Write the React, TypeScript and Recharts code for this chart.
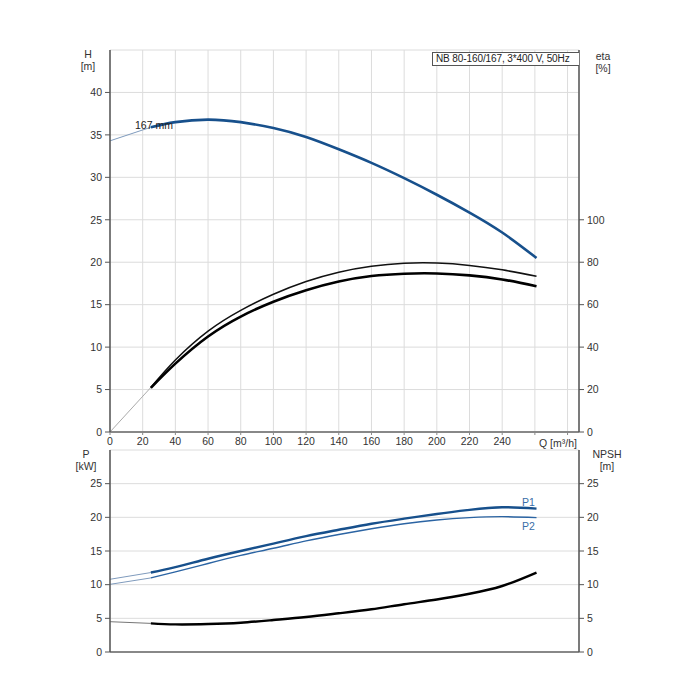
import React from 'react';
import { LineChart, Line, XAxis, YAxis, CartesianGrid } from 'recharts';

const Q = [0, 25, 40, 60, 80, 100, 120, 140, 160, 180, 200, 220, 240, 261];
const H = [34.3, 35.9, 36.5, 36.8, 36.5, 35.8, 34.75, 33.3, 31.7, 29.9, 27.95, 25.85, 23.5, 20.5];
const ETA_TOTAL = [0, 21, 33.9, 47.5, 57.3, 64.9, 70.9, 75.3, 78.1, 79.5, 79.6, 78.5, 76.4, 73.4];
const ETA_PUMP = [0, 20.8, 32.2, 45.0, 54.4, 61.4, 66.8, 70.9, 73.5, 74.6, 74.7, 73.8, 71.9, 68.7];
const P1 = [10.8, 11.8, 12.6, 13.85, 15.0, 16.1, 17.2, 18.15, 19.05, 19.8, 20.5, 21.1, 21.5, 21.3];
const P2 = [10.05, 11.0, 11.9, 13.15, 14.35, 15.4, 16.5, 17.45, 18.3, 19.05, 19.6, 19.95, 20.1, 19.95];
const NPSH = [4.5, 4.25, 4.1, 4.15, 4.35, 4.75, 5.2, 5.75, 6.35, 7.1, 7.8, 8.65, 9.8, 11.8];

const X_TICKS = [0, 20, 40, 60, 80, 100, 120, 140, 160, 180, 200, 220, 240, 260, 280];
const H_TICKS = [0, 5, 10, 15, 20, 25, 30, 35, 40];
const ETA_TICKS = [0, 20, 40, 60, 80, 100];
const P_TICKS = [0, 5, 10, 15, 20, 25];
const NPSH_TICKS = [0, 5, 10, 15, 20, 25];

const mk = (vals: number[], from: number, to: number) =>
  Q.slice(from, to + 1).map((q, i) => ({ q, v: vals[from + i] }));

const FONT = '"Liberation Sans", Arial, sans-serif';
const FS = 10.5;
const tickStyle = { fontSize: FS, fill: '#333', fontFamily: FONT };
const GRID = '#dcdcdc';
const AXIS = '#555';
const BLUE = '#17508c';
const BLUE2 = '#2b64a3';

const labelStyle: React.CSSProperties = {
  position: 'absolute',
  fontFamily: FONT,
  fontSize: FS,
  color: '#333',
  lineHeight: '12px',
  textAlign: 'center',
  whiteSpace: 'nowrap',
};

export default function App() {
  return (
    <div style={{ position: 'absolute', left: 0, top: 0, width: 700, height: 700, background: '#fff' }}>
      <div style={{ position: 'absolute', left: 0, top: 0 }}>
        <LineChart width={700} height={460} margin={{ top: 50, right: 81, bottom: 8, left: 70 }}>
          <CartesianGrid stroke={GRID} yAxisId="h" xAxisId="x" />
          <XAxis
            xAxisId="x"
            type="number"
            dataKey="q"
            domain={[0, 287]}
            ticks={X_TICKS}
            allowDataOverflow
            tickFormatter={(v: number) => (v > 240 ? '' : String(v))}
            tick={tickStyle}
            tickSize={3}
            tickMargin={3}
            height={20}
            axisLine={{ stroke: '#888', strokeWidth: 2 }}
            tickLine={{ stroke: '#888' }}
          />
          <YAxis
            yAxisId="h"
            orientation="left"
            domain={[0, 45]}
            ticks={H_TICKS}
            width={40}
            tick={tickStyle}
            tickSize={5}
            tickMargin={3}
            axisLine={{ stroke: AXIS, strokeWidth: 1.5 }}
            tickLine={{ stroke: AXIS }}
          />
          <YAxis
            yAxisId="eta"
            orientation="right"
            domain={[0, 180]}
            ticks={ETA_TICKS}
            width={40}
            tick={tickStyle}
            tickSize={5}
            tickMargin={3}
            axisLine={{ stroke: AXIS, strokeWidth: 1.5 }}
            tickLine={{ stroke: AXIS }}
          />
          <Line xAxisId="x" yAxisId="eta" data={mk(ETA_TOTAL, 0, 1)} dataKey="v" type="linear" stroke="#aaa" strokeWidth={1} dot={false} isAnimationActive={false} />
          <Line xAxisId="x" yAxisId="eta" data={mk(ETA_TOTAL, 1, 13)} dataKey="v" type="natural" stroke="#111" strokeWidth={1.5} dot={false} isAnimationActive={false} />
          <Line xAxisId="x" yAxisId="eta" data={mk(ETA_PUMP, 1, 13)} dataKey="v" type="natural" stroke="#000" strokeWidth={2.6} dot={false} isAnimationActive={false} />
          <Line xAxisId="x" yAxisId="h" data={mk(H, 0, 1)} dataKey="v" type="linear" stroke="#7f9bbd" strokeWidth={1} dot={false} isAnimationActive={false} />
          <Line xAxisId="x" yAxisId="h" data={mk(H, 1, 13)} dataKey="v" type="natural" stroke={BLUE} strokeWidth={2.6} dot={false} isAnimationActive={false} />
        </LineChart>
      </div>

      <div style={{ position: 'absolute', left: 0, top: 440 }}>
        <LineChart width={700} height={230} margin={{ top: 10, right: 81, bottom: 17, left: 70 }}>
          <CartesianGrid stroke={GRID} yAxisId="p" xAxisId="x" />
          <XAxis
            xAxisId="x"
            type="number"
            dataKey="q"
            domain={[0, 287]}
            ticks={X_TICKS}
            allowDataOverflow
            tick={false}
            tickLine={false}
            height={1}
            axisLine={{ stroke: '#888', strokeWidth: 2 }}
          />
          <YAxis
            yAxisId="p"
            orientation="left"
            domain={[0, 30]}
            ticks={P_TICKS}
            width={40}
            tick={tickStyle}
            tickSize={5}
            tickMargin={3}
            axisLine={{ stroke: AXIS, strokeWidth: 1.5 }}
            tickLine={{ stroke: AXIS }}
          />
          <YAxis
            yAxisId="npsh"
            orientation="right"
            domain={[0, 30]}
            ticks={NPSH_TICKS}
            width={40}
            tick={tickStyle}
            tickSize={5}
            tickMargin={3}
            axisLine={{ stroke: AXIS, strokeWidth: 1.5 }}
            tickLine={{ stroke: AXIS }}
          />
          <Line xAxisId="x" yAxisId="p" data={mk(P1, 0, 1)} dataKey="v" type="linear" stroke="#7f9bbd" strokeWidth={1} dot={false} isAnimationActive={false} />
          <Line xAxisId="x" yAxisId="p" data={mk(P1, 1, 13)} dataKey="v" type="natural" stroke={BLUE} strokeWidth={2.4} dot={false} isAnimationActive={false} />
          <Line xAxisId="x" yAxisId="p" data={mk(P2, 0, 1)} dataKey="v" type="linear" stroke="#7f9bbd" strokeWidth={1} dot={false} isAnimationActive={false} />
          <Line xAxisId="x" yAxisId="p" data={mk(P2, 1, 13)} dataKey="v" type="natural" stroke={BLUE2} strokeWidth={1.4} dot={false} isAnimationActive={false} />
          <Line xAxisId="x" yAxisId="npsh" data={mk(NPSH, 0, 1)} dataKey="v" type="linear" stroke="#777" strokeWidth={1} dot={false} isAnimationActive={false} />
          <Line xAxisId="x" yAxisId="npsh" data={mk(NPSH, 1, 13)} dataKey="v" type="natural" stroke="#000" strokeWidth={2.4} dot={false} isAnimationActive={false} />
        </LineChart>
      </div>

      <div style={{ ...labelStyle, left: 73, top: 48, width: 30 }}>H<br />[m]</div>
      <div style={{ ...labelStyle, left: 588, top: 50, width: 30 }}>eta<br />[%]</div>
      <div style={{ ...labelStyle, left: 71, top: 448, width: 30 }}>P<br />[kW]</div>
      <div style={{ ...labelStyle, left: 587, top: 448, width: 40 }}>NPSH<br />[m]</div>
      <div style={{ ...labelStyle, left: 539, top: 437, textAlign: 'left' }}>Q [m³/h]</div>
      <div style={{ ...labelStyle, left: 135, top: 119, textAlign: 'left', color: '#222' }}>167 mm</div>
      <div style={{ ...labelStyle, left: 522, top: 496, textAlign: 'left', color: '#3a6ea8' }}>P1</div>
      <div style={{ ...labelStyle, left: 522, top: 520, textAlign: 'left', color: '#3a6ea8' }}>P2</div>
      <div
        style={{
          ...labelStyle,
          left: 432,
          top: 52,
          width: 147,
          height: 14,
          border: '1px solid #555',
          borderRight: 'none',
          background: '#fff',
          textAlign: 'left',
          paddingLeft: 3,
          boxSizing: 'border-box',
          lineHeight: '12px',
          fontSize: 10,
          letterSpacing: -0.1,
          color: '#222',
        }}
      >
        NB 80-160/167, 3*400 V, 50Hz
      </div>
    </div>
  );
}
